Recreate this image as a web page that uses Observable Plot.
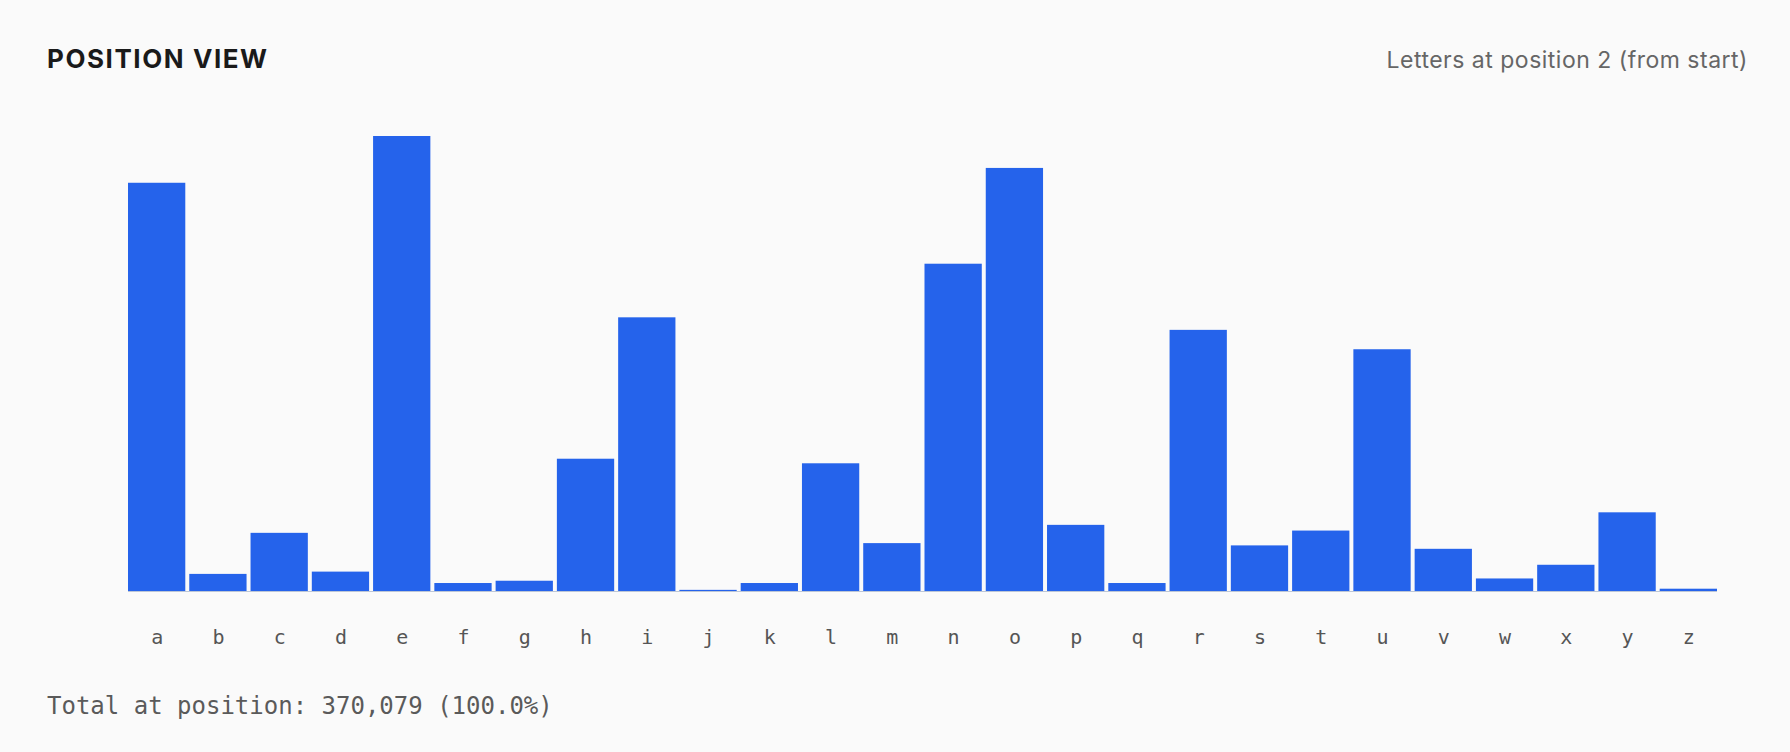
<!DOCTYPE html>
<html>
<head>
<meta charset="utf-8">
<script src="https://cdn.jsdelivr.net/npm/d3@7"></script>
<script src="https://cdn.jsdelivr.net/npm/@observablehq/plot@0.6"></script>
<style>
  html, body { margin: 0; padding: 0; background: #fafafa; }
  body { width: 1790px; height: 752px; overflow: hidden; }
  .header { position: relative; height: 100px; }
  .title {
    position: absolute; left: 47px; top: 46px;
    font-family: Inter, "Noto Sans", sans-serif; font-weight: 700;
    font-size: 26px; line-height: 26px; letter-spacing: 0.06em; color: #1a1a1a;
  }
  .subtitle {
    position: absolute; right: 42px; top: 49px;
    font-family: Inter, "Noto Sans", sans-serif; font-weight: 400;
    font-size: 23px; line-height: 23px; letter-spacing: 0.5px; color: #666;
  }
  #chart svg { display: block; }
  .footer { position: relative; height: 72px; }
  .total {
    position: absolute; left: 47px; top: 14px;
    font-family: "DejaVu Sans Mono", monospace; font-size: 24px; line-height: 24px;
    color: #5a5a5a; white-space: pre;
  }
</style>
</head>
<body>
<div class="header">
  <div class="title">POSITION VIEW</div>
  <div class="subtitle" id="subtitle"></div>
</div>
<div id="chart"></div>
<div class="footer"><div class="total" id="total"></div></div>
<script>
// Second letter of each word: how many words have each letter at position 2
const position = 2;
const letters = ["a","b","c","d","e","f","g","h","i","j","k","l","m",
                 "n","o","p","q","r","s","t","u","v","w","x","y","z"];
const counts = [47777, 2002, 6806, 2269, 53250, 934, 1201, 15481, 32030, 133, 934, 14947, 5605,
                38303, 49513, 7741, 934, 30562, 5338, 7073, 28293, 4938, 1468, 3070, 9209, 268];

const data = letters.map((letter, i) => ({letter, count: counts[i]}));
const total = d3.sum(counts);

document.getElementById("subtitle").textContent = `Letters at position ${position} (from start)`;
document.getElementById("total").textContent =
  `Total at position: ${d3.format(",")(total)} (${(100).toFixed(1)}%)`;

const chart = Plot.plot({
  width: 1790,
  height: 580,
  marginLeft: 128,
  marginRight: 73,
  marginTop: 36,
  marginBottom: 89,
  style: {background: "transparent", color: "#555", fontFamily: "'DejaVu Sans Mono', monospace"},
  x: {domain: letters, paddingInner: 0.065, paddingOuter: 0, round: false, label: null},
  y: {axis: null},
  marks: [
    Plot.barY(data, {x: "letter", y: "count", fill: "#2563eb"}),
    Plot.ruleY([0], {stroke: "#bcc6d6", strokeWidth: 1.2}),
    Plot.axisX({tickSize: 0, tickPadding: 38, fontSize: 20, label: null})
  ]
});
document.getElementById("chart").append(chart);
</script>
</body>
</html>
